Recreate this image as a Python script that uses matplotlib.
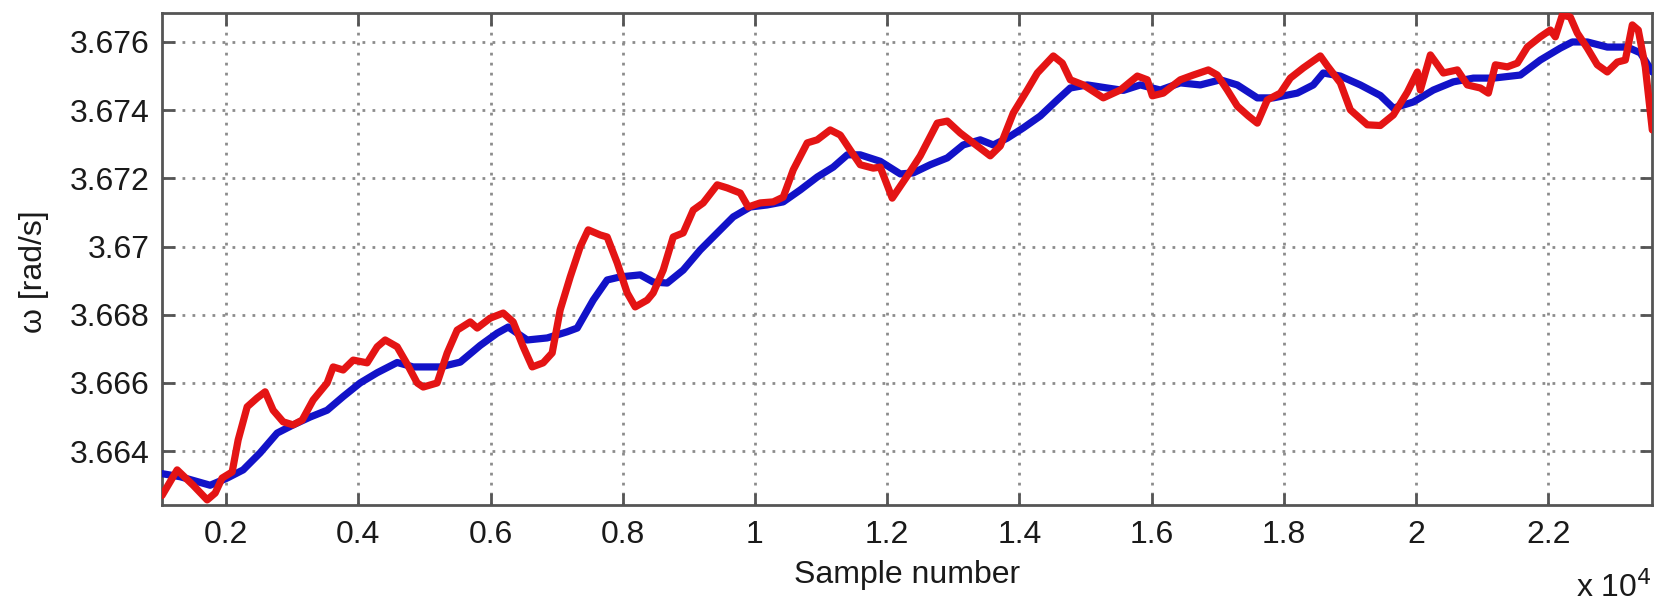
import matplotlib
matplotlib.use("Agg")
import matplotlib.pyplot as plt
from matplotlib.ticker import FuncFormatter, FixedLocator

plt.rcParams['font.family'] = ['Liberation Sans', 'DejaVu Sans']

# ---- data ----
blue_x = [1000, 1304, 1758, 2015, 2257, 2514, 2772, 3014, 3271, 3528, 3770, 4027, 4285, 4587,
          4829, 5238, 5541, 5843, 6100, 6267, 6554, 6857, 7159, 7311, 7553, 7764, 7961, 8264,
          8460, 8672, 8914, 9172, 9429, 9671, 9928, 10185, 10427, 10685, 10942, 11184, 11396,
          11592, 11895, 12198, 12394, 12652, 12909, 13150, 13408, 13605, 13817, 14059, 14316,
          14573, 14770, 15027, 15330, 15572, 15829, 16132, 16434, 16737, 17039, 17296, 17599,
          17841, 18204, 18446, 18597, 18855, 19157, 19460, 19657, 19959, 20262, 20564, 20867,
          21170, 21578, 21880, 22183, 22364, 22591, 22893, 23196, 23393, 23574]
blue_y = [3.66335, 3.66325, 3.66300, 3.66321, 3.66345, 3.66395, 3.66453, 3.66477, 3.66500,
          3.66520, 3.66560, 3.66600, 3.66630, 3.66660, 3.66647, 3.66647, 3.66661, 3.66710,
          3.66746, 3.66764, 3.66726, 3.66732, 3.66750, 3.66761, 3.66843, 3.66902, 3.66911,
          3.66917, 3.66896, 3.66893, 3.66931, 3.66990, 3.67040, 3.67087, 3.67116, 3.67122,
          3.67131, 3.67166, 3.67204, 3.67233, 3.67269, 3.67269, 3.67250, 3.67213, 3.67216,
          3.67240, 3.67260, 3.67298, 3.67313, 3.67298, 3.67318, 3.67348, 3.67383, 3.67430,
          3.67465, 3.67474, 3.67465, 3.67458, 3.67474, 3.67459, 3.67480, 3.67474, 3.67489,
          3.67474, 3.67436, 3.67436, 3.67450, 3.67474, 3.67509, 3.67500, 3.67474, 3.67443,
          3.67406, 3.67424, 3.67459, 3.67483, 3.67494, 3.67494, 3.67503, 3.67547, 3.67582,
          3.67600, 3.67600, 3.67585, 3.67585, 3.67568, 3.67512]

red_x = [1030, 1259, 1501, 1713, 1834, 1939, 2091, 2182, 2318, 2469, 2590, 2711, 2862, 3014,
         3150, 3316, 3528, 3619, 3770, 3922, 4133, 4285, 4406, 4587, 4739, 4890, 4981, 5192,
         5344, 5495, 5692, 5798, 5994, 6191, 6342, 6494, 6630, 6796, 6932, 7053, 7205, 7356,
         7477, 7659, 7764, 7916, 8067, 8188, 8370, 8460, 8612, 8763, 8914, 9066, 9217, 9429,
         9580, 9777, 9898, 10079, 10276, 10427, 10579, 10790, 10942, 11138, 11290, 11441,
         11592, 11789, 11895, 12076, 12303, 12500, 12757, 12909, 13105, 13302, 13559, 13711,
         13908, 14119, 14271, 14513, 14649, 14770, 14967, 15269, 15526, 15784, 15935, 16011,
         16177, 16434, 16631, 16858, 16994, 17145, 17296, 17463, 17599, 17750, 17947, 18098,
         18295, 18552, 18658, 18855, 19006, 19263, 19460, 19657, 19869, 20020, 20065, 20217,
         20413, 20625, 20776, 20973, 21094, 21200, 21381, 21533, 21684, 21880, 22032, 22107,
         22213, 22334, 22440, 22591, 22742, 22893, 23045, 23166, 23272, 23362, 23468, 23574]
red_y = [3.66270, 3.66345, 3.66300, 3.66257, 3.66277, 3.66321, 3.66339, 3.66433, 3.66530,
         3.66556, 3.66574, 3.66520, 3.66486, 3.66477, 3.66491, 3.66550, 3.66600, 3.66647,
         3.66638, 3.66667, 3.66659, 3.66706, 3.66726, 3.66706, 3.66655, 3.66600, 3.66588,
         3.66600, 3.66688, 3.66755, 3.66779, 3.66761, 3.66790, 3.66805, 3.66779, 3.66706,
         3.66647, 3.66659, 3.66688, 3.66814, 3.66911, 3.66999, 3.67049, 3.67034, 3.67028,
         3.66952, 3.66864, 3.66823, 3.66843, 3.66864, 3.66931, 3.67028, 3.67040, 3.67107,
         3.67128, 3.67181, 3.67172, 3.67157, 3.67116, 3.67128, 3.67131, 3.67145, 3.67225,
         3.67304, 3.67313, 3.67342, 3.67327, 3.67283, 3.67240, 3.67230, 3.67233, 3.67142,
         3.67207, 3.67266, 3.67362, 3.67368, 3.67333, 3.67304, 3.67266, 3.67295, 3.67392,
         3.67459, 3.67509, 3.67559, 3.67538, 3.67489, 3.67474, 3.67436, 3.67459, 3.67500,
         3.67489, 3.67442, 3.67450, 3.67489, 3.67503, 3.67518, 3.67503, 3.67459, 3.67412,
         3.67383, 3.67362, 3.67430, 3.67450, 3.67494, 3.67524, 3.67559, 3.67530, 3.67480,
         3.67401, 3.67357, 3.67355, 3.67386, 3.67453, 3.67512, 3.67459, 3.67562, 3.67509,
         3.67518, 3.67474, 3.67465, 3.67450, 3.67533, 3.67527, 3.67538, 3.67585, 3.67615,
         3.67635, 3.67615, 3.67679, 3.67673, 3.67626, 3.67582, 3.67533, 3.67512, 3.67541,
         3.67547, 3.67650, 3.67635, 3.67527, 3.67342]

x_ticks = [2000, 4000, 6000, 8000, 10000, 12000, 14000, 16000, 18000, 20000, 22000]
y_ticks = [3.664, 3.666, 3.668, 3.670, 3.672, 3.674, 3.676]

# ---- figure ----
fig = plt.figure(figsize=(16.6, 6.01), dpi=100)
ax = fig.add_axes([0.0976, 0.1597, 0.8976, 0.8187])

ax.plot(blue_x, blue_y, color='#1212c8', lw=5.2, solid_joinstyle='round',
        solid_capstyle='round', zorder=3)
ax.plot(red_x, red_y, color='#e41414', lw=5.2, solid_joinstyle='round',
        solid_capstyle='round', zorder=4)

ax.set_xlim(1030, 23570)
ax.set_ylim(3.66242, 3.67685)

ax.xaxis.set_major_locator(FixedLocator(x_ticks))
ax.yaxis.set_major_locator(FixedLocator(y_ticks))
ax.xaxis.set_major_formatter(FuncFormatter(lambda v, p: '%g' % (v / 1e4)))
ax.yaxis.set_major_formatter(FuncFormatter(lambda v, p: '%g' % round(v, 6)))

ax.grid(True, color='#8c8c8c', linestyle=(0, (1, 2.6)), linewidth=2.0)
for s in ax.spines.values():
    s.set_color('#555555')
    s.set_linewidth(2.0)
ax.tick_params(direction='in', length=9, width=2.0, color='#555555',
               top=True, right=True, labelsize=23, labelcolor='#1a1a1a')
ax.tick_params(axis='x', pad=11)
ax.tick_params(axis='y', pad=9)

ax.set_xlabel('Sample number', fontsize=23, color='#1a1a1a', labelpad=7)
fig.text(34 / 1660, 1 - 272 / 601, 'ω [rad/s]', rotation=90, ha='center', va='center',
         fontsize=23, color='#1a1a1a')
ax.text(1.0, -0.167, r'x 10$^{4}$', transform=ax.transAxes, ha='right', va='center',
        fontsize=23, color='#1a1a1a')

fig.savefig('out.png', dpi=100)
